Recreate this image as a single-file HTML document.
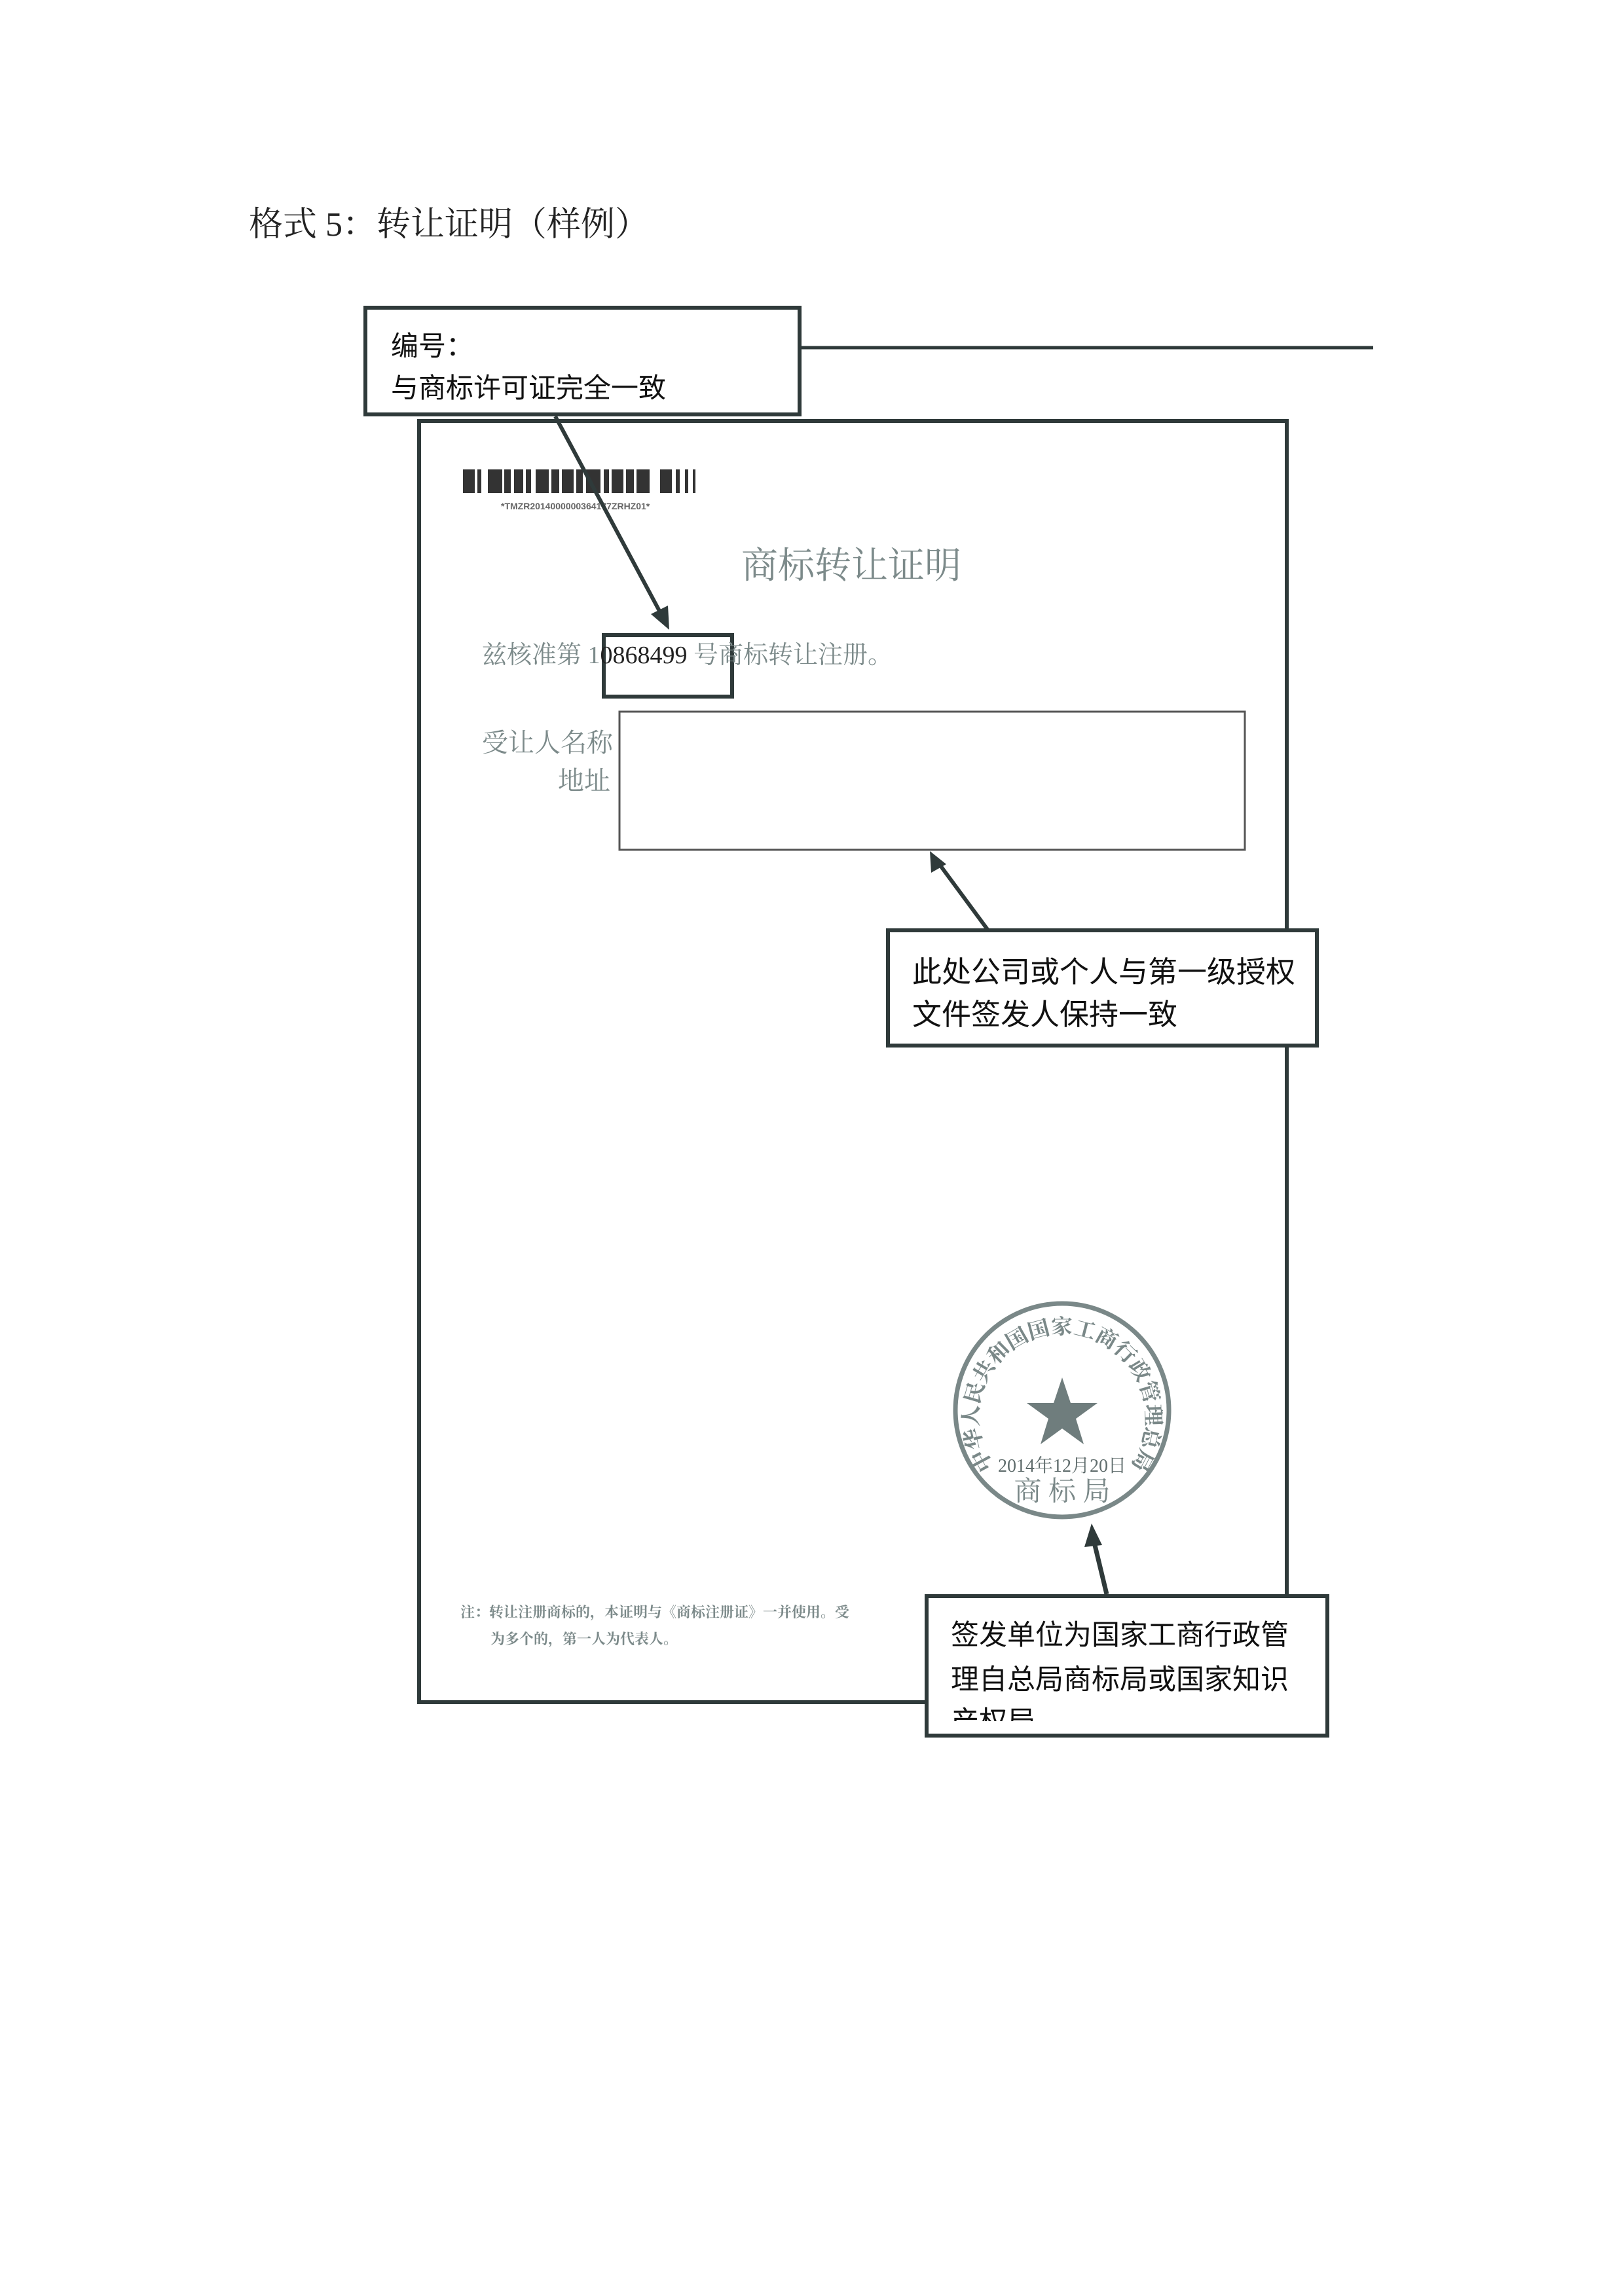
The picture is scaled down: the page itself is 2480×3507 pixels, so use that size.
<!DOCTYPE html>
<html><head><meta charset="utf-8"><style>
html,body{margin:0;padding:0;background:#fff}
body{width:2480px;height:3507px;position:relative;overflow:hidden;font-family:"Liberation Sans","Noto Sans CJK SC",sans-serif}
.a{position:absolute;white-space:nowrap}
.box{position:absolute;background:#fff;border:6px solid #2f3a3a;box-sizing:border-box;overflow:hidden}
.bt{position:absolute;white-space:nowrap;font-family:"Liberation Sans","Noto Sans CJK SC",sans-serif;color:#111}
.serif{font-family:"Liberation Serif","Noto Serif CJK SC",serif}
.g{color:#7c8a8a}
</style></head><body>
<div class="a serif" style="left:380px;top:312px;font-size:52px;color:#222;line-height:64px">格式 5：转让证明（样例）</div>

<svg width="2480" height="3507" style="position:absolute;left:0;top:0">
  <line x1="1224" y1="531" x2="2097" y2="531" stroke="#2f3a3a" stroke-width="5"/>
  <rect x="640" y="643" width="1325" height="1957" fill="none" stroke="#2f3a3a" stroke-width="6"/>
  <rect x="946" y="1087" width="955" height="211" fill="#fff" stroke="#555" stroke-width="3"/>
  <g fill="#333">
    <rect x="707" y="717" width="18" height="36"/><rect x="729" y="717" width="6" height="36"/>
    <rect x="745" y="717" width="22" height="36"/><rect x="770" y="717" width="10" height="36"/>
    <rect x="785" y="717" width="14" height="36"/><rect x="803" y="717" width="8" height="36"/>
    <rect x="818" y="717" width="20" height="36"/><rect x="842" y="717" width="12" height="36"/>
    <rect x="858" y="717" width="18" height="36"/><rect x="880" y="717" width="10" height="36"/>
    <rect x="895" y="717" width="22" height="36"/><rect x="922" y="717" width="8" height="36"/>
    <rect x="934" y="717" width="18" height="36"/><rect x="956" y="717" width="12" height="36"/>
    <rect x="972" y="717" width="20" height="36"/><rect x="1008" y="717" width="18" height="36"/>
    <rect x="1032" y="717" width="6" height="36"/><rect x="1046" y="717" width="5" height="36"/><rect x="1058" y="717" width="4" height="36"/>
  </g>
  <text x="765" y="778" font-family="Liberation Sans" font-size="14" fill="#666" font-weight="bold">*TMZR2014000000364177ZRHZ01*</text>
  <circle cx="1622" cy="2154" r="163" fill="none" stroke="#7a8888" stroke-width="7"/>
  <polygon points="1622,2104 1635,2143 1676,2143 1643,2167 1655,2206 1622,2182 1589,2206 1601,2167 1568,2143 1609,2143" fill="#6f7d7d"/>
  <path id="arc" d="M1518,2240 A128,128 0 1,1 1726,2240" fill="none"/>
  <text font-family="Liberation Serif,Noto Serif CJK SC,serif" font-size="32" fill="#7a8888" font-weight="bold" textLength="560" lengthAdjust="spacingAndGlyphs"><textPath href="#arc">中华人民共和国国家工商行政管理总局</textPath></text>
  <text x="1622" y="2248" text-anchor="middle" font-family="Liberation Serif,Noto Serif CJK SC,serif" font-size="28" fill="#5f6c6c">2014年12月20日</text>
  <text x="1622" y="2292" text-anchor="middle" font-family="Liberation Serif,Noto Serif CJK SC,serif" font-size="42" fill="#7a8888">商 标 局</text>
  <line x1="848" y1="636" x2="1008" y2="935" stroke="#2f3a3a" stroke-width="6"/>
  <polygon points="1022,962 994,938 1020,925" fill="#2f3a3a"/>
  <line x1="1509" y1="1421" x2="1433" y2="1318" stroke="#2f3a3a" stroke-width="6"/>
  <polygon points="1420,1300 1445,1320 1422,1333" fill="#2f3a3a"/>
  <line x1="1690" y1="2435" x2="1670" y2="2352" stroke="#2f3a3a" stroke-width="7"/>
  <polygon points="1667,2327 1683,2360 1656,2363" fill="#2f3a3a"/>
  <rect x="922" y="970" width="196" height="94" fill="none" stroke="#2f3a3a" stroke-width="6"/>
</svg>

<div class="a serif g" style="left:1132px;top:832px;font-size:56px;line-height:66px">商标转让证明</div>
<div class="a serif g" style="left:736px;top:979px;font-size:38px;line-height:44px">兹核准第 1<span style="color:#222">0868499</span> 号商标转让注册。</div>
<div class="a serif g" style="left:736px;top:1112px;font-size:40px;line-height:46px">受让人名称</div>
<div class="a serif g" style="left:852px;top:1170px;font-size:40px;line-height:46px">地址</div>
<div class="a serif g" style="left:703px;top:2450px;font-size:22px;line-height:26px;font-weight:bold">注：转让注册商标的，本证明与《商标注册证》一并使用。受</div>
<div class="a serif g" style="left:749px;top:2491px;font-size:22px;line-height:26px;font-weight:bold">为多个的，第一人为代表人。</div>

<div class="box" style="left:555px;top:467px;width:669px;height:169px">
  <div class="bt" style="left:36px;top:28px;font-size:42px;line-height:56px">编号：</div>
  <div class="bt" style="left:36px;top:92px;font-size:42px;line-height:56px">与商标许可证完全一致</div>
</div>
<div class="box" style="left:1353px;top:1418px;width:661px;height:182px">
  <div class="bt" style="left:34px;top:32px;font-size:45px;line-height:58px">此处公司或个人与第一级授权</div>
  <div class="bt" style="left:34px;top:97px;font-size:45px;line-height:58px">文件签发人保持一致</div>
</div>
<div class="box" style="left:1412px;top:2435px;width:618px;height:219px">
  <div style="position:absolute;left:0;top:0;width:606px;height:188px;overflow:hidden">
  <div class="bt" style="left:34px;top:28px;font-size:43px;line-height:58px">签发单位为国家工商行政管</div>
  <div class="bt" style="left:34px;top:96px;font-size:43px;line-height:58px">理自总局商标局或国家知识</div>
  <div class="bt" style="left:34px;top:160px;font-size:43px;line-height:58px">产权局</div>
  </div>
</div>
</body></html>
